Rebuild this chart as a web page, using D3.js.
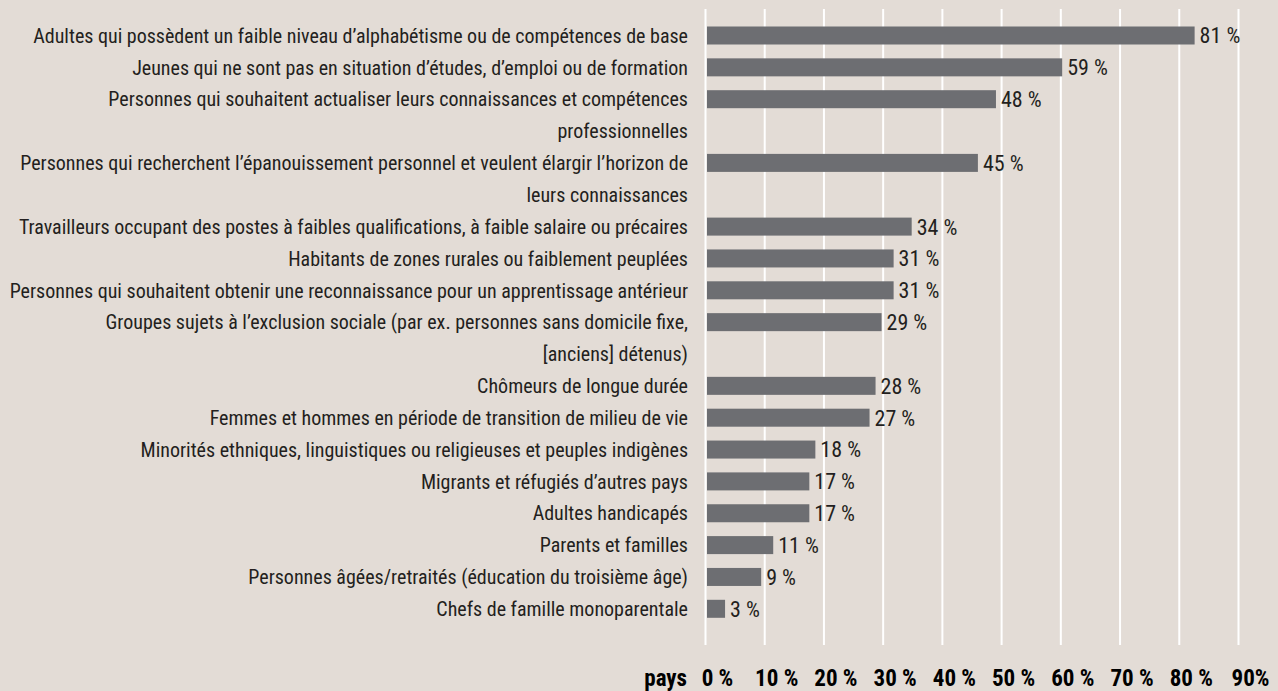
<!DOCTYPE html>
<html>
<head>
<meta charset="utf-8">
<script src="https://cdn.jsdelivr.net/npm/d3@7"></script>
<style>
  html, body { margin: 0; padding: 0; background: #e3dcd6; }
  svg { display: block; }
  text { font-family: "Liberation Sans Narrow", "Arial Narrow", "Roboto Condensed", sans-serif; }
</style>
</head>
<body>
<svg id="chart" width="1278" height="691"></svg>
<script>
// ---- data ----
const categories = [
  ["Adultes qui possèdent un faible niveau d’alphabétisme ou de compétences de base"],
  ["Jeunes qui ne sont pas en situation d’études, d’emploi ou de formation"],
  ["Personnes qui souhaitent actualiser leurs connaissances et compétences", "professionnelles"],
  ["Personnes qui recherchent l’épanouissement personnel et veulent élargir l’horizon de", "leurs connaissances"],
  ["Travailleurs occupant des postes à faibles qualifications, à faible salaire ou précaires"],
  ["Habitants de zones rurales ou faiblement peuplées"],
  ["Personnes qui souhaitent obtenir une reconnaissance pour un apprentissage antérieur"],
  ["Groupes sujets à l’exclusion sociale (par ex. personnes sans domicile fixe,", "[anciens] détenus)"],
  ["Chômeurs de longue durée"],
  ["Femmes et hommes en période de transition de milieu de vie"],
  ["Minorités ethniques, linguistiques ou religieuses et peuples indigènes"],
  ["Migrants et réfugiés d’autres pays"],
  ["Adultes handicapés"],
  ["Parents et familles"],
  ["Personnes âgées/retraités (éducation du troisième âge)"],
  ["Chefs de famille monoparentale"]
];
const values = [81, 59, 48, 45, 34, 31, 31, 29, 28, 27, 18, 17, 17, 11, 9, 3];
const tickValues = [0, 10, 20, 30, 40, 50, 60, 70, 80, 90];
const tickLabels = ["0 %", "10 %", "20 %", "30 %", "40 %", "50 %", "60 %", "70 %", "80 %", "90%"];
const axisTitle = "pays";

// ---- layout ----
const W = 1278, H = 691;
const svg = d3.select("#chart");
const C = { bg: "#e3dcd6", bar: "#6d6e72", text: "#231f20", grid: "#ffffff" };
const FS = 20;

svg.append("rect").attr("width", W).attr("height", H).attr("fill", C.bg);

// slot index of each category (wrapped labels take extra line slots)
const slots = [];
let acc = 0;
categories.forEach(c => { slots.push(acc); acc += c.length; });

const y = d3.scaleLinear().domain([0, 1]).range([35.5, 35.5 + 31.85]);
const xGrid = d3.scaleLinear().domain([0, 90]).range([705.5, 1238.5]);
const xBar = d3.scaleLinear().domain([0, 90]).range([707, 707 + 90 * 6.02]);

// gridlines
svg.append("g").selectAll("line").data(tickValues).join("line")
  .attr("x1", d => xGrid(d)).attr("x2", d => xGrid(d))
  .attr("y1", 9).attr("y2", 645)
  .attr("stroke", C.grid).attr("stroke-width", 2);

// bars
const barH = 18;
svg.append("g").selectAll("rect").data(values).join("rect")
  .attr("x", xBar(0))
  .attr("y", (d, i) => y(slots[i]) - barH / 2)
  .attr("width", d => xBar(d) - xBar(0))
  .attr("height", barH)
  .attr("fill", C.bar);

// value labels
svg.append("g").selectAll("text").data(values).join("text")
  .attr("x", d => xBar(d) + 5)
  .attr("y", (d, i) => y(slots[i]))
  .attr("dy", "0.36em")
  .attr("font-size", 22)
  .attr("fill", C.text)
  .text(d => d + " %");

// category labels
const lab = svg.append("g");
categories.forEach((lines, i) => {
  lines.forEach((ln, j) => {
    lab.append("text")
      .attr("x", 688)
      .attr("y", y(slots[i] + j))
      .attr("dy", "0.36em")
      .attr("text-anchor", "end")
      .attr("font-size", FS)
      .attr("fill", C.text)
      .text(ln);
  });
});

// axis tick labels
const axY = 686;
svg.append("g").selectAll("text").data(tickValues).join("text")
  .attr("x", d => xGrid(d) + 12)
  .attr("y", axY)
  .attr("text-anchor", "middle")
  .attr("font-size", 23)
  .attr("font-weight", "bold")
  .attr("fill", "#000")
  .text((d, i) => tickLabels[i]);
svg.append("text")
  .attr("x", 687).attr("y", axY)
  .attr("text-anchor", "end")
  .attr("font-size", 23)
  .attr("font-weight", "bold")
  .attr("fill", "#000")
  .text(axisTitle);
</script>
</body>
</html>
